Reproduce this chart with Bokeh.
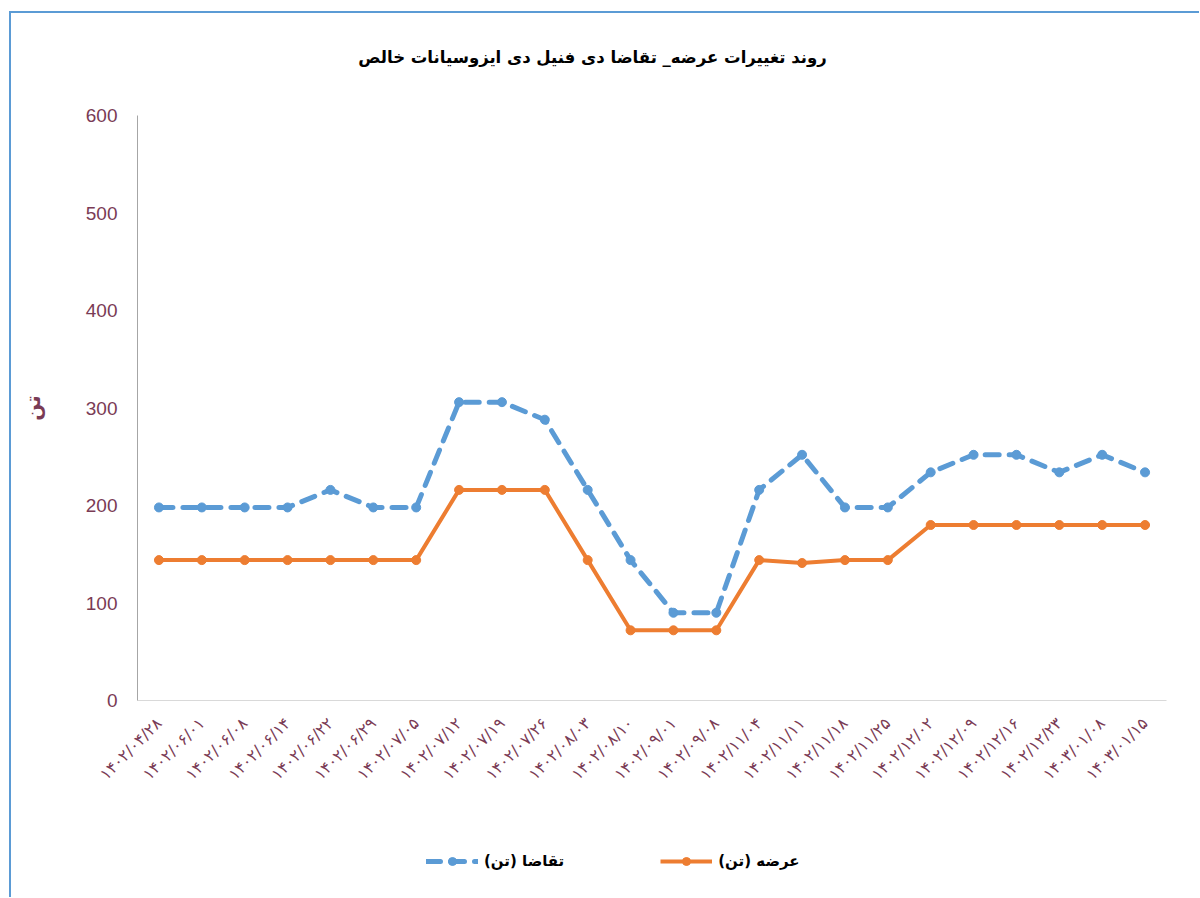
import math
from bokeh.plotting import figure
from bokeh.layouts import column
from bokeh.models import (FactorRange, Range1d, Legend, LegendItem, FixedTicker,
                          ColumnDataSource, Label)
from bokeh.embed import file_html
from bokeh.resources import INLINE

dates = ["۱۴۰۲/۰۴/۲۸", "۱۴۰۲/۰۶/۰۱", "۱۴۰۲/۰۶/۰۸", "۱۴۰۲/۰۶/۱۴", "۱۴۰۲/۰۶/۲۲",
         "۱۴۰۲/۰۶/۲۹", "۱۴۰۲/۰۷/۰۵", "۱۴۰۲/۰۷/۱۲", "۱۴۰۲/۰۷/۱۹", "۱۴۰۲/۰۷/۲۶",
         "۱۴۰۲/۰۸/۰۳", "۱۴۰۲/۰۸/۱۰", "۱۴۰۲/۰۹/۰۱", "۱۴۰۲/۰۹/۰۸", "۱۴۰۲/۱۱/۰۴",
         "۱۴۰۲/۱۱/۱۱", "۱۴۰۲/۱۱/۱۸", "۱۴۰۲/۱۱/۲۵", "۱۴۰۲/۱۲/۰۲", "۱۴۰۲/۱۲/۰۹",
         "۱۴۰۲/۱۲/۱۶", "۱۴۰۲/۱۲/۲۳", "۱۴۰۳/۰۱/۰۸", "۱۴۰۳/۰۱/۱۵"]
demand = [198, 198, 198, 198, 216, 198, 198, 306, 306, 288, 216, 144, 90, 90,
          216, 252, 198, 198, 234, 252, 252, 234, 252, 234]
supply = [144, 144, 144, 144, 144, 144, 144, 216, 216, 216, 144, 72, 72, 72,
          144, 141, 144, 144, 180, 180, 180, 180, 180, 180]
y_ticks = [0, 100, 200, 300, 400, 500, 600]

title_text = "روند تغییرات عرضه_ تقاضا دی فنیل دی ایزوسیانات خالص"
demand_label = "تقاضا (تن)"
supply_label = "عرضه (تن)"
y_label = "تن"

BLUE = "#5B9BD5"
ORANGE = "#ED7D31"
MAROON = "#7A3B55"
FONT = "DejaVu Sans"
W = 1188

src = ColumnDataSource(dict(x=dates, demand=demand, supply=supply))


def bare(height, **kw):
    f = figure(width=W, height=height, output_backend="svg", toolbar_location=None,
               x_axis_location=None, y_axis_location=None, min_border=0, **kw)
    f.outline_line_color = None
    f.xgrid.visible = False
    f.ygrid.visible = False
    f.background_fill_color = "white"
    f.border_fill_color = "white"
    return f


# ---- title strip ----
pt = bare(92, x_range=Range1d(0, 1), y_range=Range1d(0, 1))
pt.add_layout(Label(x=455, y=48, x_units="screen", y_units="screen", text=title_text,
                    text_align="center", text_baseline="middle", text_font=FONT,
                    text_font_size="16.5px", text_font_style="bold", text_color="black"))

# ---- main chart ----
p = figure(width=W, height=690, output_backend="svg", toolbar_location=None,
           x_range=FactorRange(*dates, range_padding=0), y_range=Range1d(0, 600),
           min_border_left=126, min_border_right=33, min_border_top=10,
           min_border_bottom=95)
p.outline_line_color = None
p.background_fill_color = "white"
p.border_fill_color = "white"
p.xgrid.visible = False
p.ygrid.visible = False

p.yaxis.ticker = FixedTicker(ticks=y_ticks)
p.yaxis.major_tick_line_color = None
p.yaxis.minor_tick_line_color = None
p.yaxis.axis_line_color = "#A6A6A6"
p.yaxis.major_label_text_color = MAROON
p.yaxis.major_label_text_font = "Liberation Sans"
p.yaxis.major_label_text_font_size = "19px"
p.yaxis.major_label_standoff = 14
p.yaxis.axis_label = y_label
p.yaxis.axis_label_text_font = FONT
p.yaxis.axis_label_text_font_size = "20px"
p.yaxis.axis_label_text_font_style = "bold"
p.yaxis.axis_label_text_color = MAROON
p.yaxis.axis_label_standoff = 38

p.xaxis.major_tick_line_color = None
p.xaxis.minor_tick_line_color = None
p.xaxis.axis_line_color = "#D9D9D9"
p.xaxis.major_label_orientation = math.pi / 4
p.xaxis.major_label_text_color = MAROON
p.xaxis.major_label_text_font = FONT
p.xaxis.major_label_text_font_size = "16px"
p.xaxis.major_label_standoff = 14

line_demand = dict(line_color=BLUE, line_width=5, line_dash="14 10",
                   line_cap="round", line_join="round")
line_supply = dict(line_color=ORANGE, line_width=4, line_join="round")

p.line("x", "demand", source=src, **line_demand)
p.scatter("x", "demand", source=src, size=9, fill_color=BLUE, line_color=BLUE)
p.line("x", "supply", source=src, **line_supply)
p.scatter("x", "supply", source=src, size=9, fill_color=ORANGE, line_color=ORANGE)

# ---- legend strip ----
pl = bare(102, x_range=FactorRange(*dates, range_padding=0), y_range=Range1d(0, 600))
l1 = pl.line("x", "demand", source=src, visible=False, **line_demand)
s1 = pl.scatter("x", "demand", source=src, size=9, fill_color=BLUE, line_color=BLUE,
                visible=False)
l2 = pl.line("x", "supply", source=src, visible=False, **line_supply)
s2 = pl.scatter("x", "supply", source=src, size=9, fill_color=ORANGE,
                line_color=ORANGE, visible=False)
legend = Legend(items=[LegendItem(label=demand_label, renderers=[l1, s1]),
                       LegendItem(label=supply_label, renderers=[l2, s2])],
                orientation="horizontal", location=(289, 26), margin=0, padding=10,
                glyph_width=52, glyph_height=20, spacing=96, label_standoff=6,
                label_text_font=FONT, label_text_font_size="15px",
                label_text_font_style="bold", label_text_color="black",
                border_line_color=None, background_fill_alpha=0,
                inactive_fill_alpha=0)
pl.add_layout(legend, "center")

layout = column(pt, p, pl, spacing=0)
layout.styles = {"border-top": "2px solid #5B9BD5", "border-left": "2px solid #5B9BD5",
                 "margin-top": "11px", "margin-left": "9px"}

open("out.html", "w").write(file_html(layout, INLINE))
